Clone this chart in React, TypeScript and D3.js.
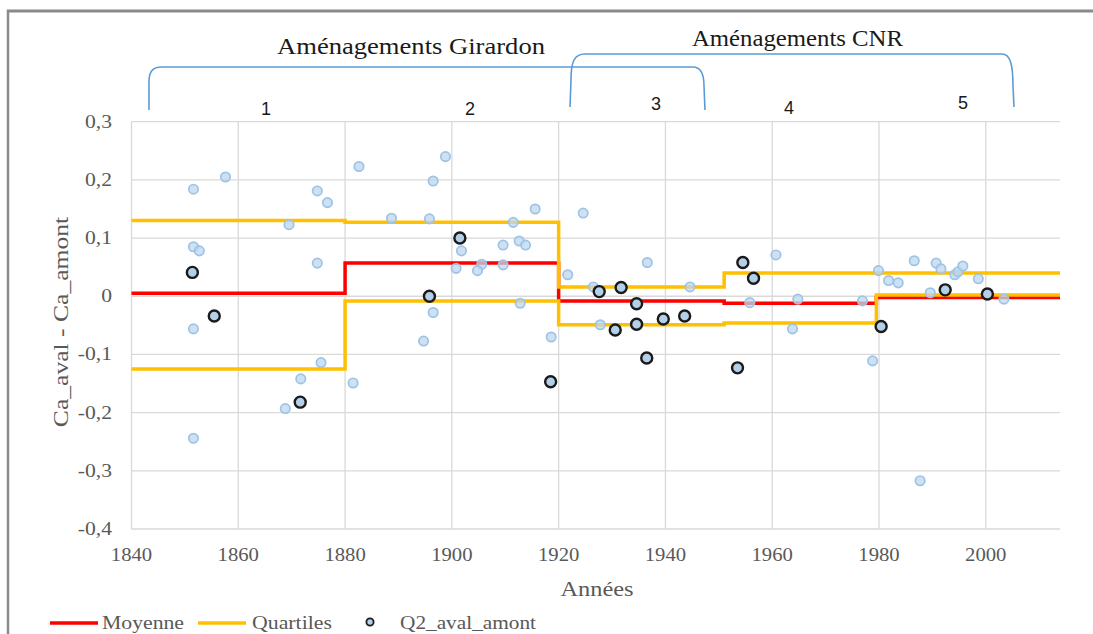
import React from "react";
import * as d3 from "d3";

// ---- data ----
const stepYears = [1840, 1880, 1920, 1951, 1979.5];
const xEnd = 2013.9;
const moyenne = [0.005, 0.057, -0.008, -0.012, -0.002];
const quartileLow = [-0.125, -0.008, -0.049, -0.046, 0.002];
const quartileHigh = [0.13, 0.127, 0.016, 0.04, 0.04];

const obsYears = [
  1851.6, 1857.6, 1851.6, 1852.7, 1851.6, 1851.6, 1874.8, 1876.7, 1869.5, 1874.8,
  1875.5, 1871.7, 1868.8, 1882.6, 1888.7, 1881.5, 1898.8, 1896.5, 1895.8, 1911.5,
  1915.6, 1901.8, 1909.6, 1912.6, 1913.8, 1900.8, 1905.6, 1904.8, 1909.6, 1896.5,
  1912.8, 1894.7, 1918.6, 1921.7, 1924.6, 1936.6, 1926.5, 1944.6, 1927.8, 1960.7,
  1955.8, 1964.8, 1963.8, 1976.9, 1979.9, 1978.8, 1981.8, 1983.6, 1986.6, 1990.7,
  1991.6, 1989.6, 1994.2, 1994.8, 1995.7, 1998.6, 2003.4, 1987.7,
];
const obsValues = [
  0.184, 0.205, 0.085, 0.078, -0.056, -0.244, 0.181, 0.161, 0.123, 0.057,
  -0.114, -0.142, -0.193, 0.223, 0.134, -0.149, 0.24, 0.198, 0.133, 0.127,
  0.15, 0.078, 0.088, 0.095, 0.088, 0.048, 0.055, 0.044, 0.054, -0.028,
  -0.012, -0.077, -0.07, 0.037, 0.143, 0.058, 0.016, 0.016, -0.049, 0.071,
  -0.011, -0.005, -0.056, -0.008, 0.044, -0.111, 0.027, 0.023, 0.061, 0.057,
  0.047, 0.006, 0.037, 0.042, 0.052, 0.03, -0.005, -0.317,
];

const q2Years = [
  1851.4, 1855.5, 1871.6, 1895.8, 1901.5, 1918.5, 1927.6, 1930.6, 1931.7, 1934.6,
  1934.6, 1936.5, 1939.6, 1943.6, 1953.5, 1954.5, 1956.5, 1980.4, 1992.4, 2000.3,
];
const q2Values = [
  0.041, -0.034, -0.182, 0.0, 0.1, -0.147, 0.008, -0.058, 0.015, -0.013,
  -0.048, -0.106, -0.039, -0.034, -0.123, 0.058, 0.031, -0.052, 0.011, 0.004,
];

const xTicks = [1840, 1860, 1880, 1900, 1920, 1940, 1960, 1980, 2000];
const yTicks = [0.3, 0.2, 0.1, 0, -0.1, -0.2, -0.3, -0.4];
const periodLabels = ["1", "2", "3", "4", "5"];
const periodLabelX = [266, 470, 656, 789, 963];
const periodLabelY = [115, 115, 110, 114, 109];

// ---- layout ----
const W = 1093;
const H = 634;
const L = 131.5;
const R = 1060;
const T = 121.7;
const B = 529;

const SERIF = "'Liberation Serif', 'Times New Roman', 'DejaVu Serif', serif";
const SANS = "'Liberation Sans', Arial, sans-serif";

function Txt(props: {
  x: number;
  y: number;
  s?: number;
  anchor?: string;
  size: number;
  fill?: string;
  family?: string;
  rotate?: number;
  children: React.ReactNode;
}) {
  const { x, y, s = 1.2, anchor = "start", size, fill = "#595959", family = SERIF, rotate = 0 } = props;
  return (
    <text
      transform={`translate(${x},${y}) rotate(${rotate}) scale(${s},1)`}
      textAnchor={anchor}
      fill={fill}
      style={{ fontFamily: family, fontSize: size + "px" }}
    >
      {props.children}
    </text>
  );
}

export default function App() {
  const x = d3.scaleLinear().domain([1840, xEnd]).range([L, R]);
  const y = d3.scaleLinear().domain([-0.4, 0.3]).range([B, T]);

  const stepLine = (vals: number[]) => {
    const pts: [number, number][] = stepYears.map((yr, i) => [yr, vals[i]]);
    pts.push([xEnd, vals[vals.length - 1]]);
    return d3
      .line<[number, number]>()
      .x((d) => x(d[0]))
      .y((d) => y(d[1]))
      .curve(d3.curveStepAfter)(pts) as string;
  };

  const fmt = (v: number) => (v === 0 ? "0" : d3.format(".1f")(v).replace(".", ",").replace("−", "-"));

  const brace = "#5b9bd5";
  const serifStyle = (size: number) => ({ fontFamily: SERIF, fontSize: size + "px" });

  return (
    <svg width={W} height={H} style={{ position: "absolute", left: 0, top: 0, background: "#fff" }}>
      <rect x={0} y={0} width={W} height={H} fill="#fff" />
      {/* frame */}
      <line x1={7} y1={11} x2={W} y2={11} stroke="#8a8a8a" strokeWidth={3} />
      <line x1={8} y1={10} x2={8} y2={H} stroke="#8a8a8a" strokeWidth={2.5} />

      {/* gridlines */}
      {yTicks.map((t) => (
        <line key={"gy" + t} x1={L} x2={R} y1={y(t)} y2={y(t)} stroke="#d9d9d9" strokeWidth={1.3} />
      ))}
      {xTicks.map((t) => (
        <line key={"gx" + t} x1={x(t)} x2={x(t)} y1={T} y2={B} stroke="#d9d9d9" strokeWidth={1.3} />
      ))}

      {/* tick labels */}
      {yTicks.map((t) => (
        <Txt key={"ty" + t} x={112} y={y(t) + 6} anchor="end" size={18} s={1.2}>
          {fmt(t)}
        </Txt>
      ))}
      {xTicks.map((t) => (
        <Txt key={"tx" + t} x={x(t)} y={561} anchor="middle" size={18} s={1.15}>
          {t}
        </Txt>
      ))}

      {/* axis titles */}
      <Txt x={597} y={596} anchor="middle" size={20} s={1.22}>
        Années
      </Txt>
      <Txt x={68} y={322} anchor="middle" size={20} s={1.28} rotate={-90}>
        Ca_aval - Ca_amont
      </Txt>

      {/* series */}
      <path d={stepLine(moyenne)} fill="none" stroke="#ff0000" strokeWidth={3.5} />
      <path d={stepLine(quartileHigh)} fill="none" stroke="#ffc000" strokeWidth={3.5} />
      <path d={stepLine(quartileLow)} fill="none" stroke="#ffc000" strokeWidth={3.5} />

      {obsYears.map((yr, i) => (
        <circle
          key={"o" + i}
          cx={x(yr)}
          cy={y(obsValues[i])}
          r={4.7}
          fill="#bdd7ee"
          fillOpacity={0.75}
          stroke="#9dc3e6"
          strokeWidth={1.7}
        />
      ))}
      {q2Years.map((yr, i) => (
        <circle
          key={"q" + i}
          cx={x(yr)}
          cy={y(q2Values[i])}
          r={5.5}
          fill="#b4cfe8"
          stroke="#1a1a1a"
          strokeWidth={2.4}
        />
      ))}

      {/* braces */}
      <path
        d="M149,110 L149,82 C149,72 152,67 162,67 L693,67 C701,67 704,74 704,86 L705,110"
        fill="none"
        stroke={brace}
        strokeWidth={1.6}
      />
      <path
        d="M570,107 L571,80 C571,62 574,54 585,54 L1002,54 C1010,54 1013,64 1013,86 L1014,107"
        fill="none"
        stroke={brace}
        strokeWidth={1.6}
      />
      <text x={411} y={54} textAnchor="middle" fill="#1a1a1a" textLength={268} lengthAdjust="spacingAndGlyphs" style={serifStyle(23)}>
        Aménagements Girardon
      </text>
      <text x={797.5} y={46} textAnchor="middle" fill="#1a1a1a" textLength={211} lengthAdjust="spacingAndGlyphs" style={serifStyle(23)}>
        Aménagements CNR
      </text>
      {periodLabels.map((p, i) => (
        <text
          key={"p" + p}
          x={periodLabelX[i]}
          y={periodLabelY[i]}
          textAnchor="middle"
          fill="#1a1a1a"
          style={{ fontFamily: SANS, fontSize: "18px" }}
        >
          {p}
        </text>
      ))}

      {/* legend */}
      <line x1={50} x2={98} y1={623} y2={623} stroke="#ff0000" strokeWidth={3.5} />
      <text x={102} y={629} fill="#595959" textLength={82} lengthAdjust="spacingAndGlyphs" style={serifStyle(19)}>
        Moyenne
      </text>
      <line x1={198} x2={246} y1={623} y2={623} stroke="#ffc000" strokeWidth={3.5} />
      <text x={252} y={629} fill="#595959" textLength={80} lengthAdjust="spacingAndGlyphs" style={serifStyle(19)}>
        Quartiles
      </text>
      <circle cx={370} cy={622} r={3.6} fill="#b4cfe8" stroke="#1a1a1a" strokeWidth={1.8} />
      <text x={400} y={629} fill="#595959" textLength={136} lengthAdjust="spacingAndGlyphs" style={serifStyle(19)}>
        Q2_aval_amont
      </text>
    </svg>
  );
}
